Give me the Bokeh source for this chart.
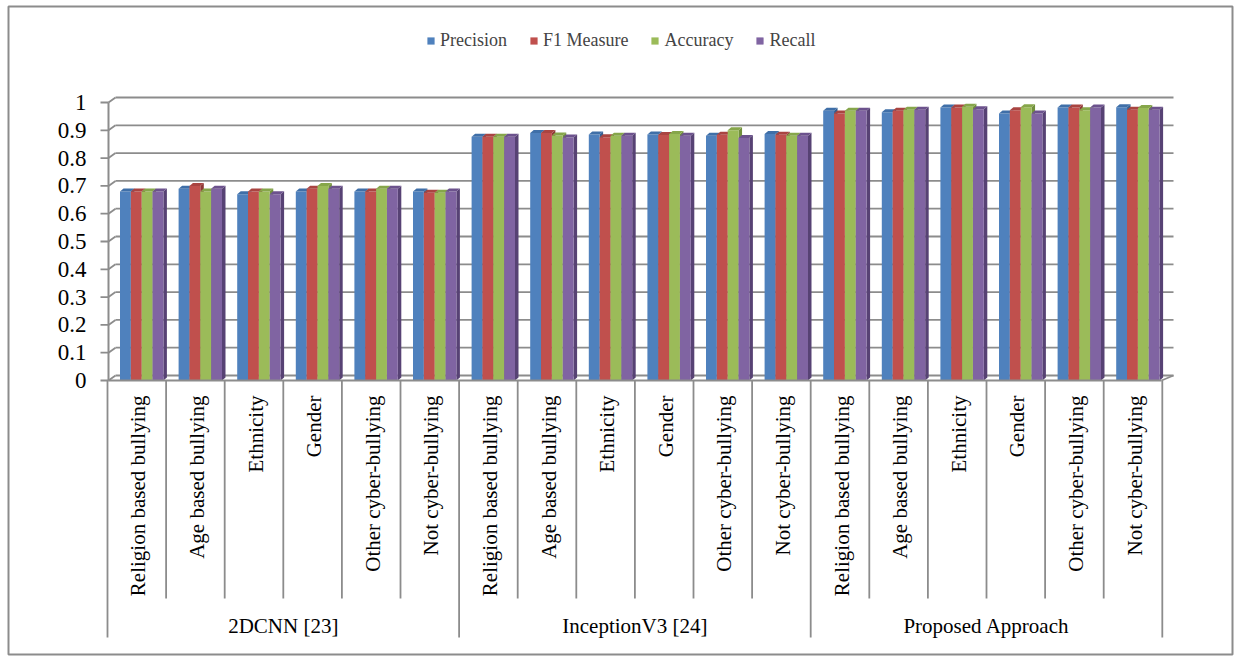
from bokeh.plotting import figure
from bokeh.models import Range1d, Legend, LegendItem
from bokeh.core.properties import value
from bokeh.embed import file_html
from bokeh.resources import INLINE

# ---------------- data ----------------
categories = ["Religion based bullying", "Age based bullying", "Ethnicity",
              "Gender", "Other cyber-bullying", "Not cyber-bullying"]
groups = ["2DCNN [23]", "InceptionV3 [24]", "Proposed Approach"]
series_names = ["Precision", "F1 Measure", "Accuracy", "Recall"]

precision = [0.68, 0.69, 0.67, 0.68, 0.68, 0.68,
             0.877, 0.89, 0.885, 0.885, 0.88, 0.887,
             0.97, 0.965, 0.982, 0.96, 0.982, 0.983]
f1_measure = [0.68, 0.70, 0.68, 0.69, 0.68, 0.675,
              0.877, 0.89, 0.875, 0.883, 0.884, 0.884,
              0.96, 0.97, 0.982, 0.972, 0.982, 0.974]
accuracy = [0.68, 0.68, 0.68, 0.70, 0.69, 0.675,
            0.877, 0.881, 0.88, 0.887, 0.90, 0.88,
            0.97, 0.974, 0.985, 0.983, 0.972, 0.98]
recall = [0.68, 0.69, 0.67, 0.69, 0.69, 0.68,
          0.877, 0.874, 0.88, 0.88, 0.872, 0.88,
          0.97, 0.974, 0.976, 0.96, 0.982, 0.974]

tick_values = [0, 0.1, 0.2, 0.3, 0.4, 0.5, 0.6, 0.7, 0.8, 0.9, 1.0]
tick_labels = ["0", "0.1", "0.2", "0.3", "0.4", "0.5", "0.6", "0.7", "0.8", "0.9", "1"]

all_series = [precision, f1_measure, accuracy, recall]
front_colors = ["#4F81BD", "#C0504D", "#9BBB59", "#8064A2"]
top_colors = ["#3F6FA8", "#A94441", "#86A64A", "#6C528D"]
side_colors = ["#355E8F", "#8E3936", "#71903C", "#574274"]

# ---------------- layout (pixels) ----------------
W, H = 1235, 656
X0, CW = 107.0, 58.6     # px of first category edge, px per category
Y0, YS = 380.0, 278.0    # px of value 0, px per unit value

def dx_px(px):
    return (px - X0) / CW

def dy_px(py):
    return (Y0 - py) / YS

ncat = len(categories) * len(groups)
all_cats = categories * len(groups)

p = figure(width=W, height=H, output_backend="svg", toolbar_location=None,
           x_range=Range1d(dx_px(0), dx_px(W)), y_range=Range1d(dy_px(H), dy_px(0)),
           x_axis_type=None, y_axis_type=None, min_border=0)
p.grid.visible = False
p.outline_line_color = None
p.background_fill_color = "white"
p.border_fill_color = "white"

GRID = "#8C8C8C"
FONT = value("Liberation Serif")

# outer border
p.quad(left=[dx_px(8)], right=[dx_px(1232)], top=[dy_px(6)], bottom=[dy_px(654)],
       fill_color=None, line_color=GRID, line_width=2)

# back wall gridlines with perspective diagonals
wall_dx_l, wall_dx_r, wall_dy = 7.0, 12.0, 5.0
front_left, front_right = 108.0, 1161.0
for v in tick_values:
    yf = Y0 - v * YS
    yb = yf - wall_dy
    p.line([dx_px(front_left), dx_px(front_left + wall_dx_l)], [dy_px(yf), dy_px(yb)],
           line_color=GRID, line_width=1.8)
    p.line([dx_px(front_left + wall_dx_l), dx_px(front_right + wall_dx_r)], [dy_px(yb), dy_px(yb)],
           line_color=GRID, line_width=1.8)
    # tick mark
    p.line([dx_px(100), dx_px(front_left)], [dy_px(yf), dy_px(yf)], line_color=GRID, line_width=1.8)

# floor right diagonal
p.line([dx_px(front_right), dx_px(front_right + wall_dx_r)], [dy_px(Y0), dy_px(Y0 - wall_dy)],
       line_color=GRID, line_width=1.8)

# bars with simple 3D faces
bar_w = 10.85 / CW
bar_off = 12.5 / CW
ddx = 3.5 / CW
ddy = 3.0 / YS
renderers = []
for s, vals in enumerate(all_series):
    lefts = [c + bar_off + s * bar_w for c in range(ncat)]
    rights = [l + bar_w for l in lefts]
    side_xs = [[r, r, r + ddx, r + ddx] for r in rights]
    side_ys = [[0, v, v + ddy, ddy] for v in vals]
    p.patches(side_xs, side_ys, fill_color=side_colors[s], line_color=None)
    r = p.quad(left=lefts, right=rights, bottom=[0] * ncat, top=vals,
               fill_color=front_colors[s], line_color=None)
    renderers.append(r)
    top_xs = [[l, l + ddx, rr + ddx, rr] for l, rr in zip(lefts, rights)]
    top_ys = [[v, v + ddy, v + ddy, v] for v in vals]
    p.patches(top_xs, top_ys, fill_color=top_colors[s], line_color=None)

# front floor line and value axis line
p.line([dx_px(front_left), dx_px(front_right)], [dy_px(Y0), dy_px(Y0)], line_color=GRID, line_width=2)
p.line([dx_px(front_left), dx_px(front_left)], [dy_px(Y0), dy_px(Y0 - YS)], line_color=GRID, line_width=2)

# value tick labels
p.text(x=[dx_px(86)] * len(tick_values), y=tick_values, text=tick_labels,
       text_font=FONT, text_font_size="23px", text_color="black",
       text_align="right", text_baseline="middle")

# category table lines
for b in range(ncat + 1):
    bottom_px = 637 if b % len(categories) == 0 else 598
    p.line([b, b], [dy_px(Y0), dy_px(bottom_px)], line_color=GRID, line_width=1.8)

# category labels (rotated)
p.text(x=[c + 0.5 + 1.5 / CW for c in range(ncat)], y=[dy_px(395)] * ncat, text=all_cats,
       angle=1.5707963, text_font=FONT, text_font_size="21px", text_color="black",
       text_align="right", text_baseline="middle")

# group labels
ng = len(categories)
p.text(x=[g * ng + ng / 2 for g in range(len(groups))], y=[dy_px(625)] * len(groups), text=groups,
       text_font=FONT, text_font_size="21px", text_color="black",
       text_align="center", text_baseline="middle")

# legend
legend = Legend(items=[LegendItem(label=n, renderers=[r]) for n, r in zip(series_names, renderers)],
                orientation="horizontal", location=(426, 605))
legend.border_line_color = None
legend.background_fill_color = None
legend.background_fill_alpha = 0
legend.glyph_width = 9
legend.glyph_height = 9
legend.label_standoff = 5
legend.spacing = 22
legend.padding = 0
legend.margin = 0
legend.label_text_font = "Liberation Serif"
legend.label_text_font_size = "18px"
legend.label_height = 20
p.add_layout(legend)

open("out.html", "w").write(file_html(p, INLINE))
